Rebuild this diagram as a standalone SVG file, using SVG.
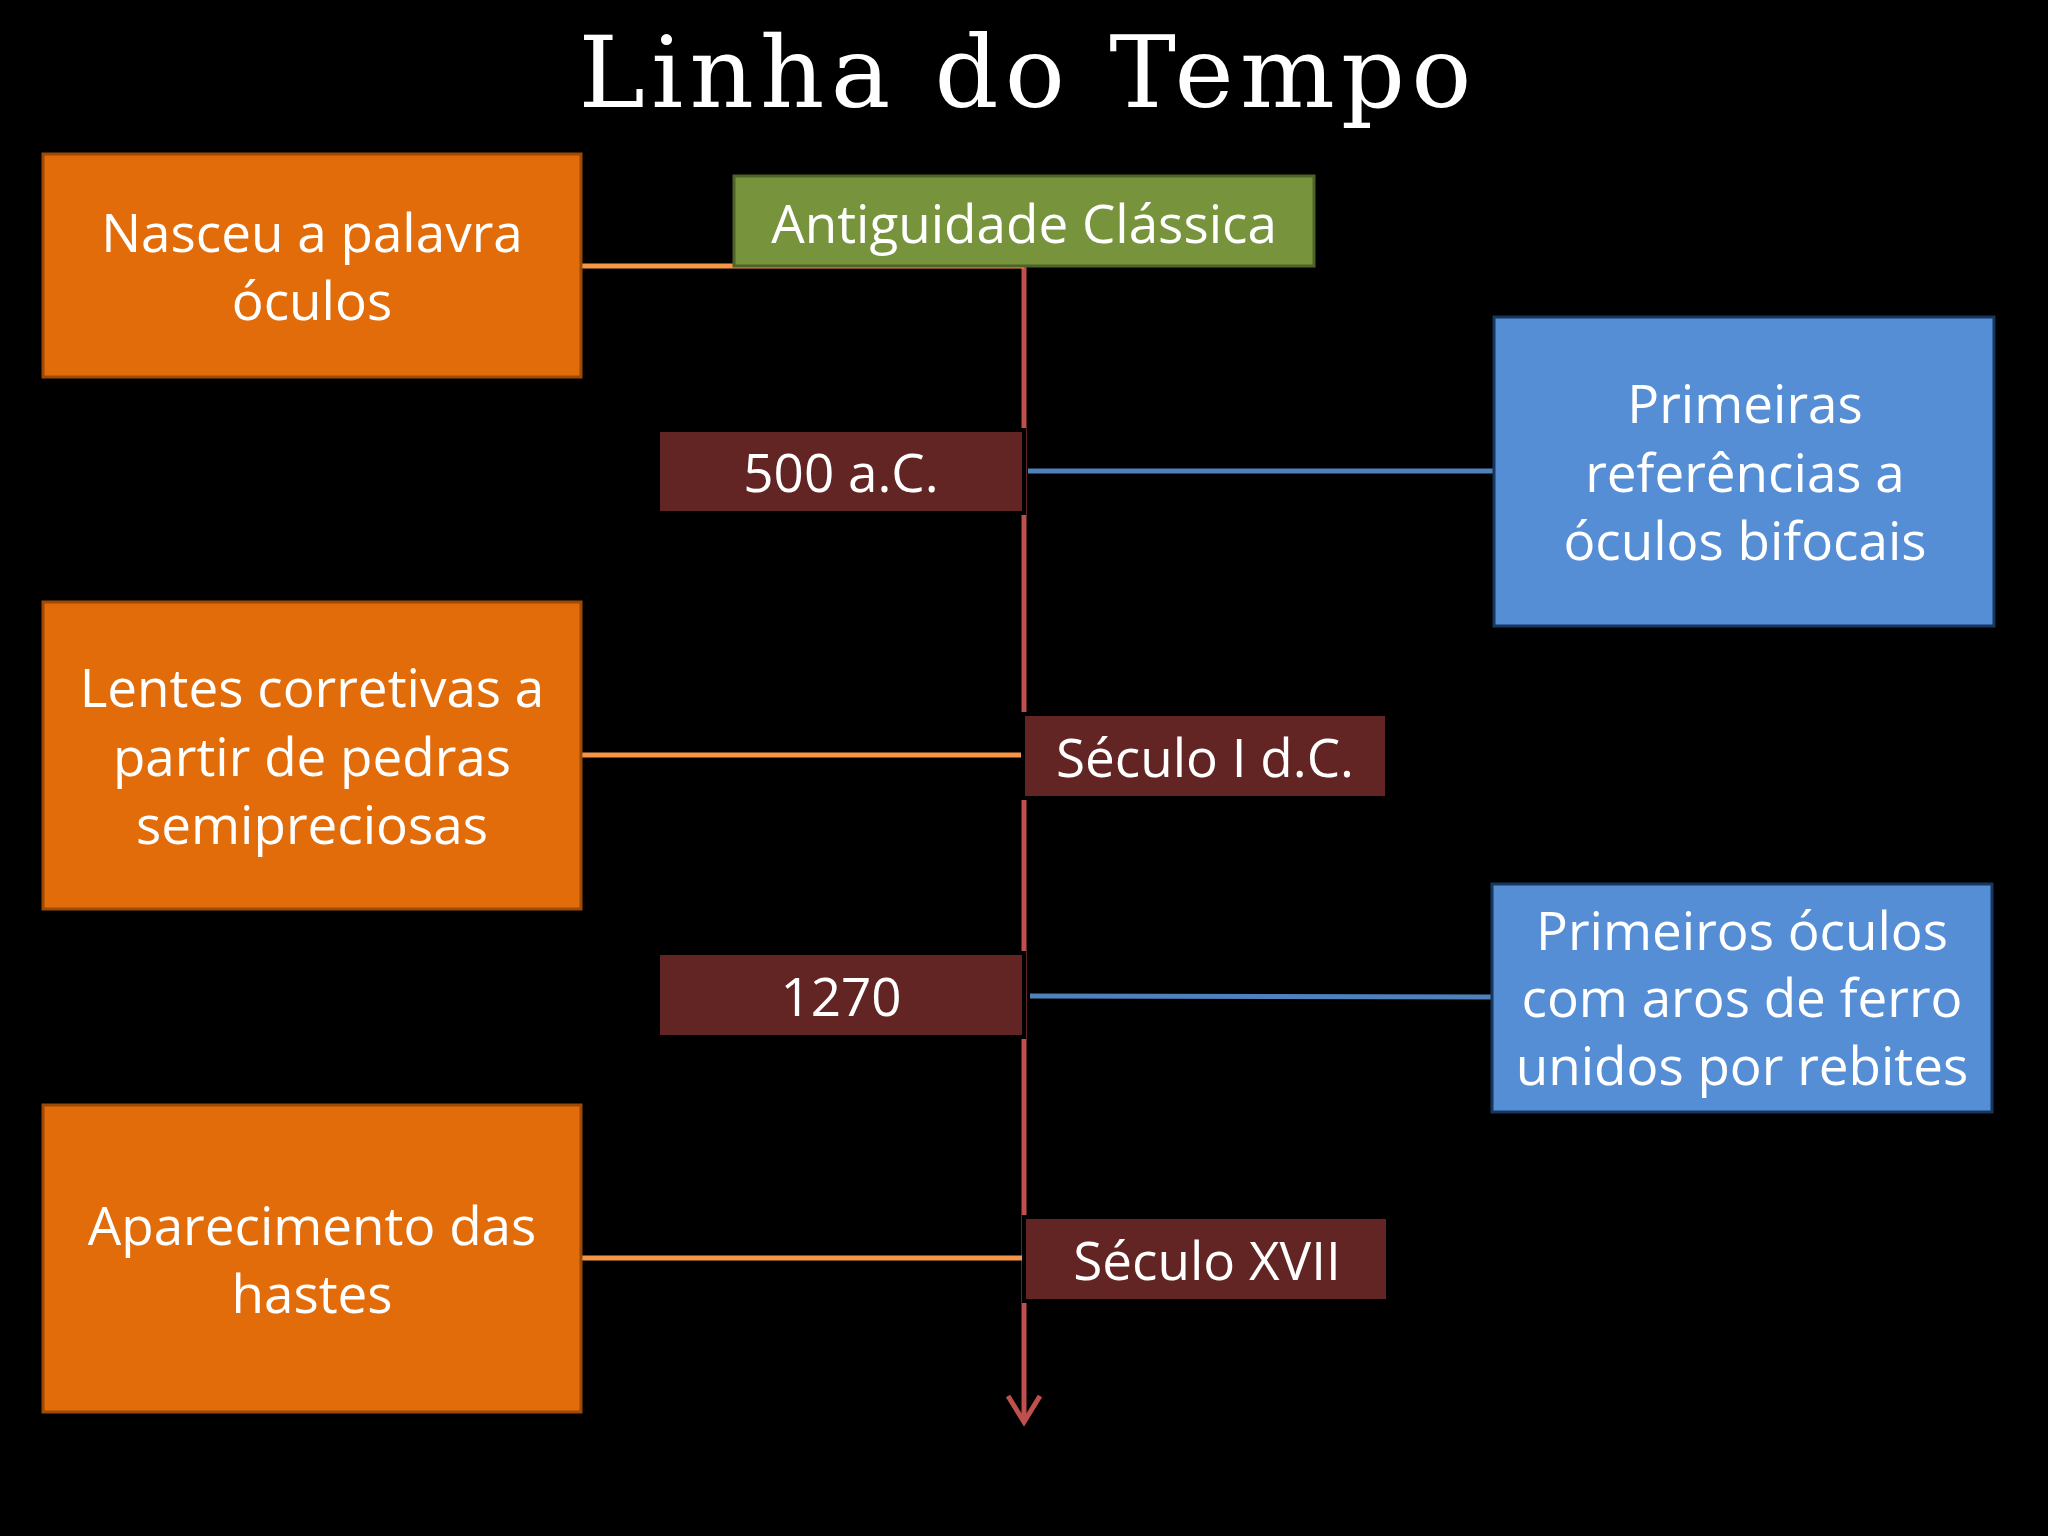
<svg xmlns="http://www.w3.org/2000/svg" width="2048" height="1536" viewBox="0 0 2048 1536">
<style>
.t{font-family:"Open Sans","Noto Sans","DejaVu Sans",sans-serif;fill:#fff;text-anchor:middle;font-size:53px}
.or{fill:#E36C0A;stroke:#9C4A06;stroke-width:3}
.bl{fill:#558ED5;stroke:#17375E;stroke-width:3}
.lb{fill:#632523;stroke:#000;stroke-width:4}
</style>
<rect width="2048" height="1536" fill="#000"/>
<text x="1025" y="107" font-family="DejaVu Serif,serif" font-size="100" fill="#fff" text-anchor="middle" textLength="893">Linha do Tempo</text>
<g id="connectors" fill="none" stroke-width="5">
<line x1="1024" y1="266" x2="1024" y2="1422" stroke="#C0504D"/>
<polyline points="1008,1396 1024,1422 1040,1396" stroke="#C0504D"/>
<line x1="581" y1="266" x2="1024" y2="266" stroke="#F79646"/>
<line x1="581" y1="755" x2="1022" y2="755" stroke="#F79646"/>
<line x1="581" y1="1258" x2="1022" y2="1258" stroke="#F79646"/>
<line x1="1028" y1="471" x2="1494" y2="471" stroke="#4F81BD"/>
<line x1="1030" y1="996" x2="1492" y2="997" stroke="#4F81BD"/>
</g>
<g id="n1"><rect class="or" x="43" y="154" width="538" height="223"/><text class="t" x="312" y="252">Nasceu a palavra</text><text class="t" x="312" y="320">óculos</text></g>
<g id="n2"><rect class="or" x="43" y="602" width="538" height="307"/><text class="t" x="312" y="707">Lentes corretivas a</text><text class="t" x="312" y="776">partir de pedras</text><text class="t" x="312" y="844">semipreciosas</text></g>
<g id="n3"><rect class="or" x="43" y="1105" width="538" height="307"/><text class="t" x="312" y="1245">Aparecimento das</text><text class="t" x="312" y="1313">hastes</text></g>
<g id="g1"><rect x="734" y="176" width="580" height="90" fill="#77933C" stroke="#4F6228" stroke-width="3"/><text class="t" x="1024" y="243">Antiguidade Clássica</text></g>
<g id="b1"><rect class="bl" x="1494" y="317" width="500" height="309"/><text class="t" x="1745" y="423">Primeiras</text><text class="t" x="1745" y="492">referências a</text><text class="t" x="1745" y="560">óculos bifocais</text></g>
<g id="b2"><rect class="bl" x="1492" y="884" width="500" height="228"/><text class="t" x="1742" y="950">Primeiros óculos</text><text class="t" x="1742" y="1017">com aros de ferro</text><text class="t" x="1742" y="1085">unidos por rebites</text></g>
<g id="l1"><rect class="lb" x="658" y="430" width="366" height="83"/><text class="t" x="841" y="492">500 a.C.</text></g>
<g id="l2"><rect class="lb" x="1023" y="714" width="364" height="84"/><text class="t" x="1205" y="777">Século I d.C.</text></g>
<g id="l3"><rect class="lb" x="658" y="953" width="366" height="84"/><text class="t" x="841" y="1016">1270</text></g>
<g id="l4"><rect class="lb" x="1024" y="1217" width="364" height="84"/><text class="t" x="1207" y="1280">Século XVII</text></g>
</svg>
